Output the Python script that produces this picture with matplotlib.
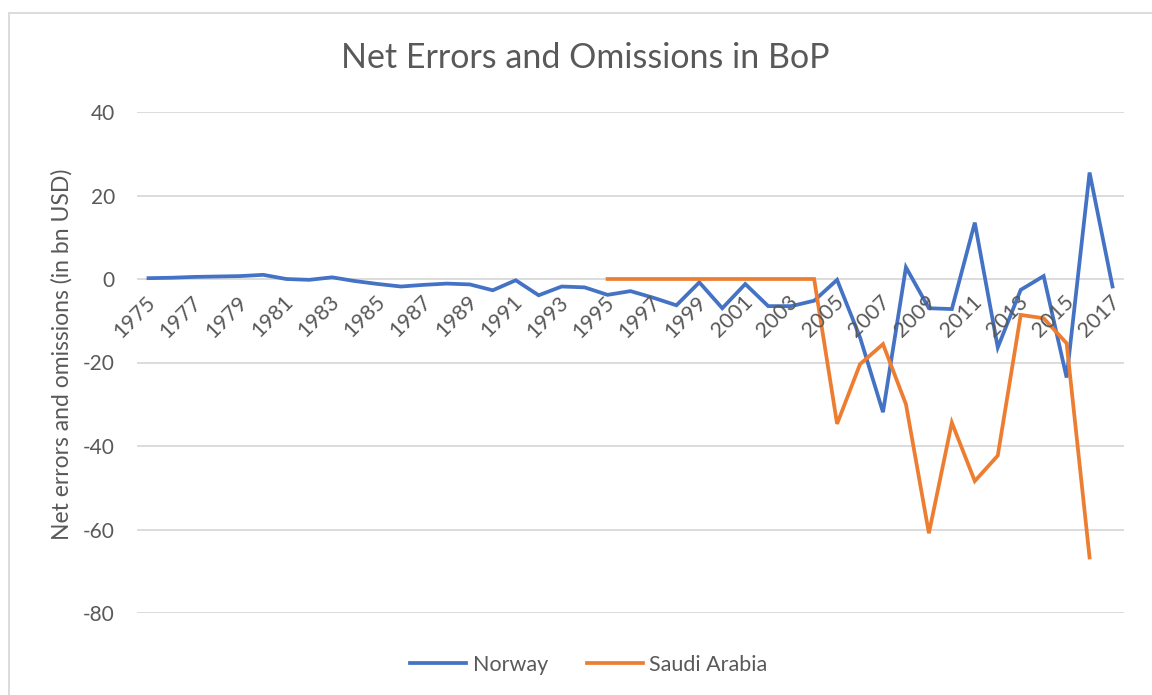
import matplotlib
matplotlib.use("Agg")
import matplotlib.pyplot as plt
import matplotlib.transforms as mtransforms
from matplotlib.patches import Rectangle
import numpy as np

# Net errors and omissions, bn USD
years = list(range(1975, 2018))
norway = [0.2, 0.3, 0.5, 0.6, 0.7, 1.0, 0.0, -0.2, 0.4, -0.5,
          -1.2, -1.8, -1.4, -1.1, -1.3, -2.7, -0.3, -3.9, -1.8, -2.0,
          -3.8, -2.9, -4.5, -6.3, -0.8, -7.0, -1.2, -6.5, -6.5, -5.2,
          -0.2, -14.0, -31.9, 2.8, -7.0, -7.2, 13.5, -16.4, -2.6, 0.7,
          -23.6, 25.5, -1.8]
saudi = [np.nan] * 20 + [0.0] * 10 + [
    -34.7, -20.4, -15.6, -30.0, -60.9, -34.4, -48.4, -42.3, -8.6, -9.4,
    -15.4, -66.7, np.nan]

blue = '#4472C4'
orange = '#ED7D31'
grey_txt = '#595959'
grid_col = '#D9D9D9'

plt.rcParams['font.family'] = ['Lato', 'DejaVu Sans']
plt.rcParams['axes.unicode_minus'] = False

fig = plt.figure(figsize=(11.52, 6.95), dpi=100)
ax = fig.add_axes([137 / 1152, 1 - 613 / 695, 987 / 1152, 501 / 695])

x = np.arange(len(years))
ax.plot(x, norway, color=blue, lw=2.7, solid_joinstyle='miter', label='Norway')
ax.plot(x, saudi, color=orange, lw=2.7, solid_joinstyle='miter', label='Saudi Arabia')

ax.set_xlim(-0.5, len(years) - 0.5)
ax.set_ylim(-80, 40)
ax.set_yticks(np.arange(-80, 41, 20))
ax.yaxis.grid(True, color=grid_col, lw=1.3)
ax.set_axisbelow(True)
ax.tick_params(axis='y', length=0, pad=16, labelsize=15, labelcolor=grey_txt)
ax.set_xticks([])
for s in ax.spines.values():
    s.set_visible(False)

# category labels sit under the zero line, rotated like Excel does
off = mtransforms.offset_copy(ax.transData, fig=fig, x=4, y=-20, units='dots')
for i, yr in enumerate(years):
    if i % 2 == 0:
        ax.text(i, 0, str(yr), transform=off, rotation=45, ha='right', va='center',
                rotation_mode='anchor', fontsize=15.5, color=grey_txt)

fig.text(585 / 1152, 1 - 58 / 695, 'Net Errors and Omissions in BoP',
         ha='center', va='center', fontsize=24.5, color=grey_txt)
fig.text(62 / 1152, 1 - 354 / 695, 'Net errors and omissions (in bn USD)',
         rotation=90, ha='center', va='center', fontsize=16.5, color=grey_txt)

fig.legend(loc='center', bbox_to_anchor=(589 / 1152, 1 - 665 / 695), ncol=2,
           frameon=False, fontsize=15.5, labelcolor=grey_txt, handlelength=2.6,
           handletextpad=0.3, columnspacing=1.8)

fig.patches.append(Rectangle((9 / 1152, -0.1), 1.2, 1.1 - 13 / 695,
                             transform=fig.transFigure, fill=False,
                             edgecolor=grid_col, lw=1.3))

fig.savefig('out.png', dpi=100)
